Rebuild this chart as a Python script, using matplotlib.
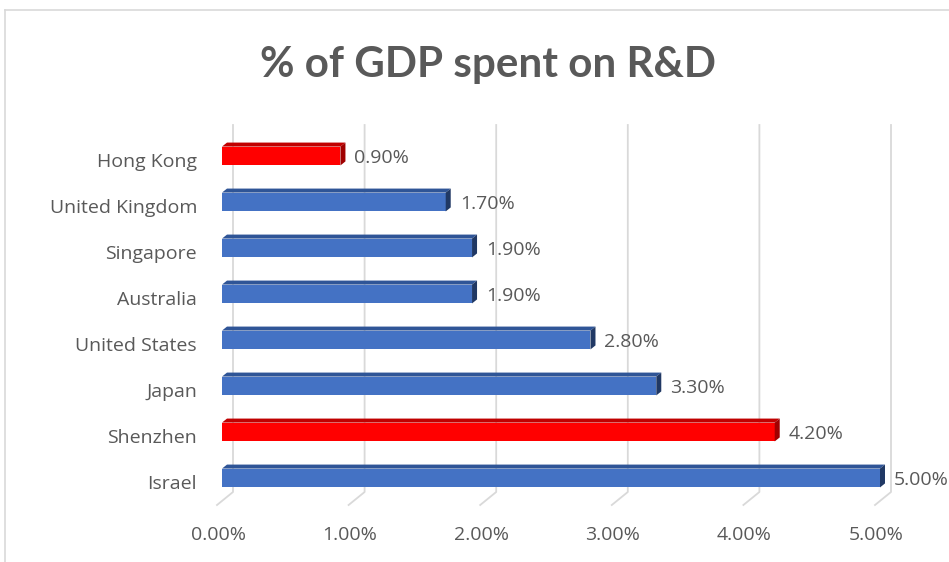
import matplotlib
matplotlib.use("Agg")
import matplotlib.pyplot as plt
from matplotlib.patches import Polygon
from matplotlib.lines import Line2D
from matplotlib.transforms import IdentityTransform, ScaledTranslation

categories = ["Israel", "Shenzhen", "Japan", "United States", "Australia",
              "Singapore", "United Kingdom", "Hong Kong"]
values = [5.0, 4.2, 3.3, 2.8, 1.9, 1.9, 1.7, 0.9]
highlight = ["Shenzhen", "Hong Kong"]
xticks = [0, 1, 2, 3, 4, 5]
xtick_labels = ["0.00%", "1.00%", "2.00%", "3.00%", "4.00%", "5.00%"]
title = "% of GDP spent on R&D"

FONT = "Open Sans"
TFONT = "Lato"
FS = 14
W, H = 949, 562
fig = plt.figure(figsize=(W / 100, H / 100), dpi=100)
fig.patch.set_facecolor("white")

# chart border (light gray)
fig.add_artist(Line2D([5, 5], [0, H - 10], color="#d9d9d9", lw=1.2, transform=IdentityTransform(), zorder=-2))
fig.add_artist(Line2D([5, W], [H - 10, H - 10], color="#d9d9d9", lw=1.2, transform=IdentityTransform(), zorder=-2))

left_px, right_px = 222, 880
top_px, bottom_px = 133, 501
ax = fig.add_axes([left_px / W, (H - bottom_px) / H, (right_px - left_px) / W, (bottom_px - top_px) / H])
ax.set_xlim(0, 5)
ax.set_ylim(-0.5, len(categories) - 0.5)
ax.axis("off")
ax.patch.set_alpha(0)

T = ax.transData
ID = IdentityTransform()

# 3D gridlines (back wall + floor diagonal)
grid_top = H - 125
grid_bot = H - 492
floor_front = H - 505
for xv in xticks:
    xb = T.transform((xv, 0))[0] + 11
    fig.add_artist(Line2D([xb, xb, xb - 16], [grid_top, grid_bot, floor_front],
                          color="#d9d9d9", lw=1.3, transform=ID, zorder=-1))

bh = 0.41
dx, dy = 5, 4
for i, (cat, v) in enumerate(zip(categories, values)):
    red = cat in highlight
    front = "#ff0000" if red else "#4472c4"
    topc = "#c00000" if red else "#2f5597"
    sidec = "#a00000" if red else "#203864"
    ax.barh(i, v, height=bh, color=front, zorder=3)
    (x0, y0) = T.transform((0, i - bh / 2))
    (x1, y1) = T.transform((v, i + bh / 2))
    top = Polygon([(x0, y1), (x1, y1), (x1 + dx, y1 + dy), (x0 + dx, y1 + dy)],
                  closed=True, facecolor=topc, edgecolor="none", transform=ID, zorder=4)
    side = Polygon([(x1, y0), (x1 + dx, y0 + dy), (x1 + dx, y1 + dy), (x1, y1)],
                   closed=True, facecolor=sidec, edgecolor="none", transform=ID, zorder=4)
    fig.add_artist(top)
    fig.add_artist(side)
    # data label
    ax.text(v, i, f"{v:.2f}%", transform=T + ScaledTranslation(14 / 100, -2 / 100, fig.dpi_scale_trans),
            ha="left", va="center", fontsize=FS, color="#595959", family=FONT, zorder=5)
    # category label
    ax.text(0, i, cat, transform=T + ScaledTranslation(-25 / 100, -6 / 100, fig.dpi_scale_trans),
            ha="right", va="center", fontsize=FS, color="#595959", family=FONT)

for xv, lab in zip(xticks, xtick_labels):
    xf = T.transform((xv, 0))[0] - 4
    fig.text(xf / W, (H - 535) / H, lab, ha="center", va="center", fontsize=FS,
             color="#595959", family=FONT)

fig.text(488 / W, (H - 65) / H, title, ha="center", va="center", fontsize=30.3,
         fontweight="bold", color="#595959", family=TFONT)

fig.savefig("out.png", dpi=100)
